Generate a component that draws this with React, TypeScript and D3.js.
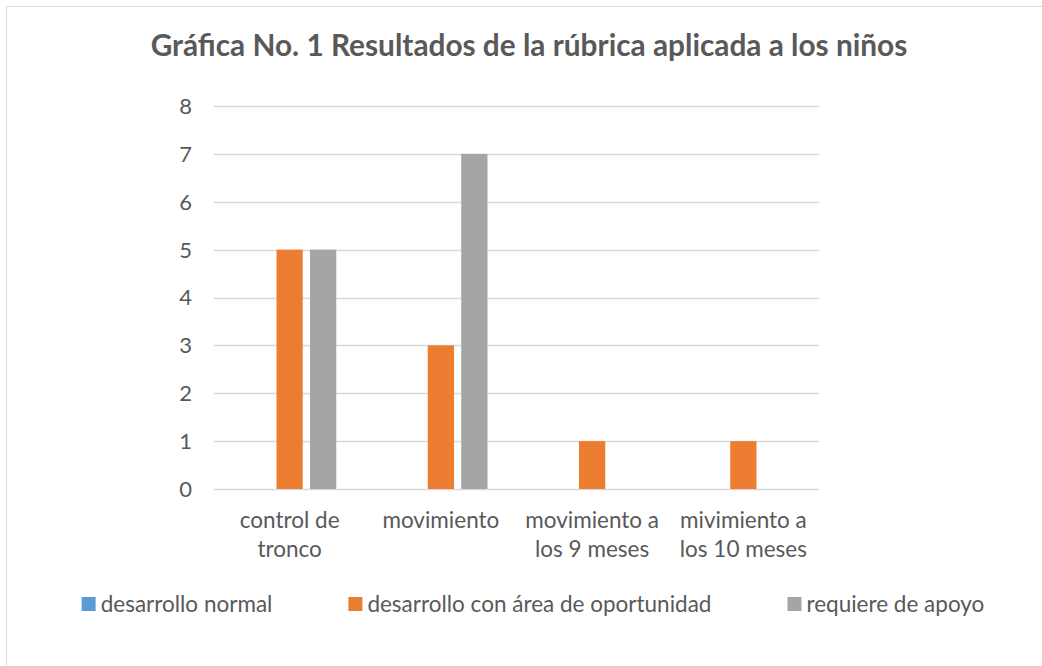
// App.tsx
import React, { useRef, useEffect } from "react";
import * as d3 from "d3";

const categories = [
  "control de tronco",
  "movimiento",
  "movimiento a los 9 meses",
  "mivimiento a los 10 meses",
];
const seriesNames = [
  "desarrollo normal",
  "desarrollo con área de oportunidad",
  "requiere de apoyo",
];
const desarrolloNormal = [0, 0, 0, 0];
const areaOportunidad = [5, 3, 1, 1];
const requiereApoyo = [5, 7, 0, 0];
const yTicks = [0, 1, 2, 3, 4, 5, 6, 7, 8];

const colors = ["#5B9BD5", "#ED7D31", "#A5A5A5"];
const textColor = "#595959";
const gridColor = "#D9D9D9";
const font = "Lato, 'Open Sans', sans-serif";

const App: React.FC = () => {
  const ref = useRef<SVGSVGElement | null>(null);

  useEffect(() => {
    if (!ref.current) return;
    const width = 1042;
    const height = 666;
    const margin = { top: 106, right: 223, bottom: 177, left: 214 };

    const svg = d3.select(ref.current);
    svg.selectAll("*").remove();

    // chart frame
    svg
      .append("rect")
      .attr("x", 6.5)
      .attr("y", 6.5)
      .attr("width", width + 10)
      .attr("height", height + 10)
      .attr("fill", "#fff")
      .attr("stroke", gridColor);

    svg
      .append("text")
      .attr("x", 529)
      .attr("y", 56)
      .attr("text-anchor", "middle")
      .attr("font-family", font)
      .attr("font-weight", "bold")
      .attr("font-size", 29.8)
      .attr("fill", textColor)
      .text("Gráfica No. 1 Resultados de la rúbrica aplicada a los niños");

    const x0 = d3
      .scaleBand<string>()
      .domain(categories)
      .range([margin.left, width - margin.right]);
    const x1 = d3
      .scaleBand<string>()
      .domain(seriesNames)
      .range([29, x0.bandwidth() - 29])
      .paddingInner(0.216);
    const y = d3
      .scaleLinear()
      .domain([0, 8])
      .range([height - margin.bottom, margin.top]);

    // gridlines
    svg
      .append("g")
      .selectAll("line")
      .data(yTicks)
      .join("line")
      .attr("x1", margin.left)
      .attr("x2", width - margin.right)
      .attr("y1", (d) => Math.round(y(d)) + 0.5)
      .attr("y2", (d) => Math.round(y(d)) + 0.5)
      .attr("stroke", gridColor)
      .attr("stroke-width", 1.3);

    // y labels
    svg
      .append("g")
      .selectAll("text")
      .data(yTicks)
      .join("text")
      .attr("x", margin.left - 22)
      .attr("y", (d) => y(d))
      .attr("dy", "0.36em")
      .attr("text-anchor", "end")
      .attr("font-family", font)
      .attr("font-size", 22)
      .attr("fill", textColor)
      .text((d) => d);

    const values = [desarrolloNormal, areaOportunidad, requiereApoyo];
    const rows = categories.flatMap((c, i) =>
      seriesNames.map((s, j) => ({ c, s, j, v: values[j][i] }))
    );
    svg
      .append("g")
      .selectAll("rect")
      .data(rows.filter((d) => d.v > 0))
      .join("rect")
      .attr("x", (d) => x0(d.c)! + x1(d.s)!)
      .attr("y", (d) => y(d.v))
      .attr("width", x1.bandwidth())
      .attr("height", (d) => y(0) - y(d.v))
      .attr("fill", (d) => colors[d.j]);

    // category labels, wrapped
    const maxW = x0.bandwidth() - 8;
    const labels = svg
      .append("g")
      .selectAll("text")
      .data(categories)
      .join("text")
      .attr("text-anchor", "middle")
      .attr("font-family", font)
      .attr("font-size", 22.5)
      .attr("fill", textColor);
    labels.each(function (c) {
      const t = d3.select(this);
      const cx = x0(c)! + x0.bandwidth() / 2;
      const words = c.split(" ");
      const lines: string[] = [];
      let line: string[] = [];
      const probe = t.append("tspan");
      for (const w of words) {
        const test = [...line, w].join(" ");
        probe.text(test);
        if (line.length && (probe.node() as SVGTSpanElement).getComputedTextLength() > maxW) {
          lines.push(line.join(" "));
          line = [w];
        } else {
          line.push(w);
        }
      }
      lines.push(line.join(" "));
      probe.remove();
      lines.forEach((l, i) => {
        t.append("tspan")
          .attr("x", cx)
          .attr("y", 528 + i * 29)
          .text(l);
      });
    });

    // legend
    const legend = svg.append("g");
    const items = legend
      .selectAll("g")
      .data(seriesNames)
      .join("g");
    items
      .append("rect")
      .attr("width", 14)
      .attr("height", 14)
      .attr("y", 597)
      .attr("fill", (_d, i) => colors[i]);
    items
      .append("text")
      .attr("x", 19)
      .attr("y", 604)
      .attr("dy", "0.36em")
      .attr("font-family", font)
      .attr("font-size", 22.5)
      .attr("fill", textColor)
      .text((d) => d);
    const widths: number[] = [];
    items.each(function () {
      widths.push((this as SVGGElement).getBBox().width);
    });
    const gap = 76;
    const total = d3.sum(widths) + gap * (widths.length - 1);
    let start = 533 - total / 2;
    items.attr("transform", (_d, i) => {
      const tx = start;
      start += widths[i] + gap;
      return `translate(${tx},0)`;
    });
  }, []);

  return (
    <svg
      ref={ref}
      width={1042}
      height={666}
      style={{ position: "absolute", left: 0, top: 0, display: "block" }}
    ></svg>
  );
};

export default App;
